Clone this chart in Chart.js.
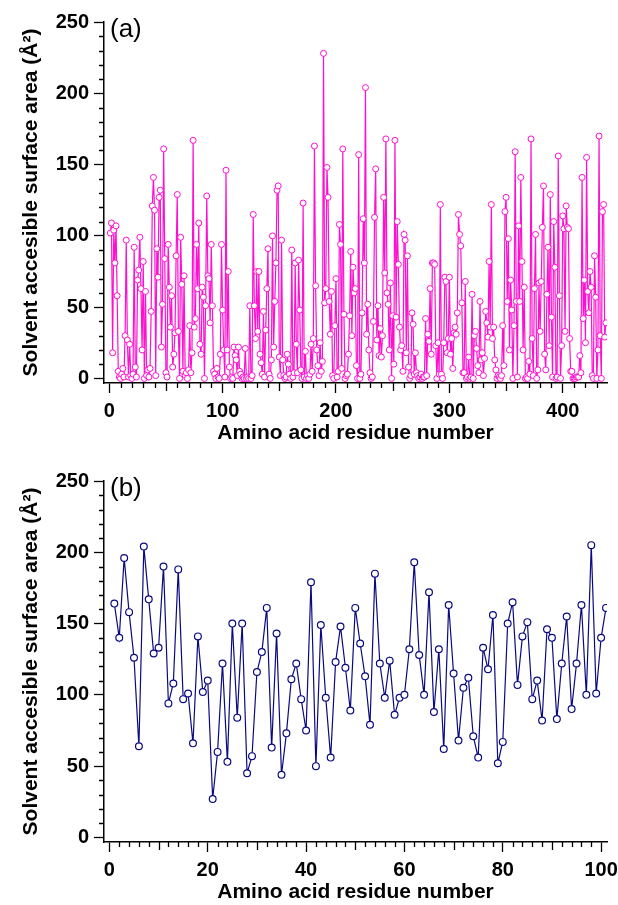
<!DOCTYPE html>
<html>
<head>
<meta charset="utf-8">
<script src="https://cdn.jsdelivr.net/npm/chart.js@4.4.1/dist/chart.umd.min.js"></script>
<style>
  body { margin: 0; background: #fff; }
  .panel { position: absolute; left: 0; width: 618px; height: 446px; }
</style>
</head>
<body>
<div class="panel" style="top:0"><canvas id="chartA" width="618" height="446"></canvas></div>
<div class="panel" style="top:459px"><canvas id="chartB" width="618" height="446"></canvas></div>
<script>
// (a) solvent accessible surface area per residue, full protein
const sasaA = [
  102, 109, 18, 104, 81, 107, 58, 5, 1, 0,
  3, 7, 1, 30, 97, 27, 1, 24, 2, 0,
  3, 92, 8, 1, 69, 76, 99, 63, 20, 82,
  0, 61, 2, 6, 1, 7, 47, 121, 141, 118,
  2, 91, 71, 127, 132, 22, 52, 161, 84, 4,
  1, 94, 64, 36, 58, 8, 17, 32, 86, 129,
  33, 0, 99, 66, 5, 72, 2, 4, 0, 6,
  37, 4, 18, 167, 36, 42, 94, 63, 109, 24,
  17, 64, 57, 0, 51, 128, 72, 70, 39, 94,
  51, 5, 3, 0, 7, 1, 0, 17, 94, 48,
  20, 1, 146, 20, 75, 8, 0, 1, 0, 22,
  16, 13, 2, 22, 5, 3, 0, 1, 0, 21,
  0, 1, 0, 51, 0, 2, 115, 51, 28, 75,
  33, 75, 17, 11, 3, 47, 1, 34, 63, 91,
  3, 0, 13, 100, 22, 54, 81, 132, 135, 15,
  2,
  97, 13, 2, 0, 1, 17, 10, 3, 0, 90,
  1, 4, 81, 24, 4, 83, 48, 6, 0, 123,
  1, 19, 0, 2, 0, 3, 24, 5, 28, 163,
  65, 20, 9, 2, 25, 5, 12, 228, 53, 63,
  148, 127, 54, 31, 61, 2, 0, 37, 70, 1,
  5, 108, 94, 7, 161, 45, 0, 2, 3, 17,
  44, 89, 30, 78, 60, 63, 9, 0, 157, 0,
  3, 46, 112, 81, 204, 31, 52, 20, 4, 0,
  1,
  40, 113, 147, 27, 51, 16, 35, 15, 30, 127,
  74, 168, 60, 52, 20, 67, 0, 44, 10, 167,
  43, 110, 80, 36, 20, 23, 5, 101, 97, 18,
  86, 8, 0, 2, 46, 38, 3, 18, 4, 2,
  0, 1, 3, 0, 1, 1, 42, 2, 31, 26,
  63, 17, 81, 81, 80, 23, 0, 25, 3, 122,
  3, 0, 25, 71, 68, 18, 28, 71, 17, 28,
  7, 32, 36, 31, 46, 115, 101, 93, 53, 4,
  4, 68, 0, 1, 15, 0, 1, 59, 0, 30,
  33, 21, 9, 4, 54, 13, 18, 2, 14, 47,
  39, 29, 82, 36, 122, 28, 36, 13, 6, 0,
  2,
  1, 0, 2, 37, 9, 117, 127, 54, 98, 20,
  69, 48, 0, 37, 159, 54, 1, 107, 54, 141,
  82, 20, 64, 0, 1, 0, 12, 3, 168, 28,
  2, 63, 101, 0, 6, 67, 33, 68, 106, 135,
  17, 6, 59, 92, 23, 129, 43, 1, 110, 78,
  0, 1, 156, 58, 0, 23, 114, 105, 33, 121,
  106, 105, 28, 5, 5, 0, 0, 0, 1, 1,
  1, 16, 4, 141, 42, 69, 25, 155, 61, 46,
  75, 64, 2, 0, 86, 57, 0, 20, 170, 30,
  0, 117, 122, 29, 39
];

// (b) solvent accessible surface area, 101 residues
const sasaB = [
  164, 140, 196, 158, 126, 64, 204, 167, 129, 133,
  190, 94, 108, 188, 97, 101, 66, 141, 102, 110,
  27, 60, 122, 53, 150, 84, 150, 45, 57, 116,
  130, 161, 63, 143, 44, 73, 111, 122, 97, 75,
  179, 50, 149, 98, 56, 123, 148, 119, 89, 161,
  136, 113, 79, 185, 122, 98, 124, 86, 98, 100,
  132, 193, 128, 100, 172, 88, 132, 62, 163, 115,
  68, 105, 112, 71, 56, 133, 118, 156, 52, 67,
  150, 165, 107, 141, 151, 97, 110, 82, 146, 140,
  83, 122, 155, 90, 122, 163, 100, 205, 101, 140,
  161
];

const residuesA = sasaA.map((_, i) => i + 1);
const residuesB = sasaB.map((_, i) => i + 1);

const yTicks = [0, 50, 100, 150, 200, 250];
const xTicksA = [0, 100, 200, 300, 400];
const xTicksB = [0, 20, 40, 60, 80, 100];

const yTitle = "Solvent accesible surface area (\u00C5\u00B2)";
const xTitle = "Amino acid residue number";

const FONT = "'Liberation Sans', Arial, sans-serif";

// minor / medium tick marks drawn through the chart's own scales
const minorTicks = {
  id: "minorTicks",
  afterDraw(chart, args, o) {
    const ctx = chart.ctx;
    const sx = chart.scales.x, sy = chart.scales.y;
    ctx.save();
    ctx.strokeStyle = "#000";
    ctx.lineWidth = 1.3;
    ctx.beginPath();
    for (let v = 0; v <= sx.max; v += o.xMinor) {
      if (v % o.xMajor === 0) continue;
      const len = v % o.xMid === 0 ? 8 : 5;
      const px = Math.round(sx.getPixelForValue(v)) + 0.5;
      ctx.moveTo(px, sx.top);
      ctx.lineTo(px, sx.top + len);
    }
    for (let v = 0; v <= sy.max; v += 10) {
      if (v % 50 === 0) continue;
      const py = Math.round(sy.getPixelForValue(v)) + 0.5;
      ctx.moveTo(sy.right, py);
      ctx.lineTo(sy.right - 5, py);
    }
    ctx.stroke();
    // panel letter
    ctx.fillStyle = "#000";
    ctx.font = "26px " + FONT;
    ctx.textBaseline = "alphabetic";
    ctx.fillText(o.letter, chart.chartArea.left + 6, chart.chartArea.top + 15);
    ctx.restore();
  }
};

function makeChart(id, xs, ys, color, xTicks, xMax, pr, bw, minor) {
  const pts = ys.map((v, i) => ({ x: xs[i], y: v }));
  return new Chart(document.getElementById(id), {
    type: "line",
    data: {
      datasets: [{
        data: pts,
        borderColor: color,
        borderWidth: 1.2,
        pointRadius: pr,
        pointBorderWidth: bw,
        pointBackgroundColor: "#fff",
        pointBorderColor: color,
        tension: 0
      }]
    },
    options: {
      responsive: false,
      animation: false,
      layout: { padding: { top: 22, right: 11, left: 0, bottom: 0 } },
      plugins: { legend: { display: false }, tooltip: { enabled: false }, minorTicks: minor },
      scales: {
        x: {
          type: "linear",
          min: minor.xMin,
          max: xMax,
          afterBuildTicks: s => { s.ticks = xTicks.map(v => ({ value: v })); },
          afterFit: s => { s.height = 446 - 383; s.paddingLeft = 0; s.paddingRight = 0; },
          grid: { drawOnChartArea: false, tickLength: 10, tickColor: "#000", tickWidth: 1.3 },
          border: { color: "#000", width: 1.5 },
          ticks: { color: "#000", padding: 6, maxRotation: 0, autoSkip: false,
                   font: { family: FONT, size: 20, weight: "bold" } },
          title: { display: true, text: xTitle, color: "#000", padding: { top: 0, bottom: 0 },
                   font: { family: FONT, size: 21, weight: "bold" } }
        },
        y: {
          min: -3.2,
          max: 250,
          afterBuildTicks: s => { s.ticks = yTicks.map(v => ({ value: v })); },
          afterFit: s => { s.width = 104; s.paddingTop = 0; s.paddingBottom = 0; },
          grid: { drawOnChartArea: false, tickLength: 10, tickColor: "#000", tickWidth: 1.3 },
          border: { color: "#000", width: 1.5 },
          ticks: { color: "#000", padding: 5,
                   font: { family: FONT, size: 20, weight: "bold" } },
          title: { display: true, text: yTitle, color: "#000", padding: { top: 19, bottom: 0 },
                   font: { family: FONT, size: 21, weight: "bold" } }
        }
      }
    },
    plugins: [minorTicks]
  });
}

makeChart("chartA", residuesA, sasaA, "#ff10d0", xTicksA, 439, 3, 1,
  { letter: "(a)", xMin: -4.6, xMinor: 10, xMid: 50, xMajor: 100 });
makeChart("chartB", residuesB, sasaB, "#0a0a80", xTicksB, 101.2, 3.4, 1.2,
  { letter: "(b)", xMin: -1.1, xMinor: 2, xMid: 10, xMajor: 20 });
</script>
</body>
</html>
